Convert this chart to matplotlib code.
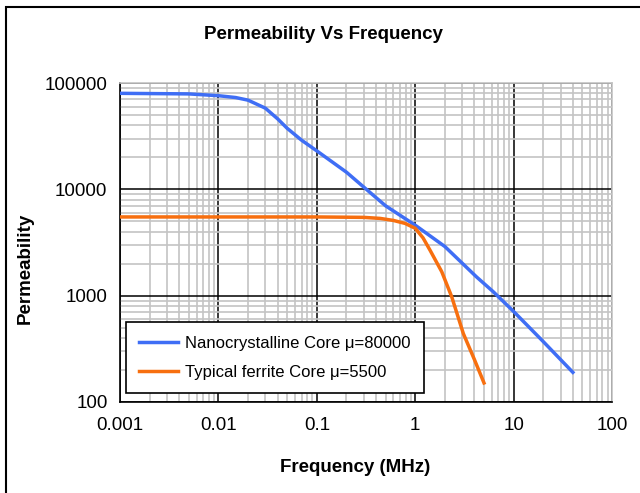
import matplotlib.pyplot as plt
from matplotlib.patches import Rectangle
from matplotlib.ticker import LogLocator, FixedLocator, NullFormatter

plt.rcParams['font.family'] = ['Liberation Sans', 'DejaVu Sans']

# Data
nano_freq = [0.001, 0.005, 0.01, 0.015, 0.02, 0.03, 0.04, 0.05, 0.07, 0.1, 0.2, 0.3, 0.5, 1, 2, 4.2, 6.2, 10, 20, 40]
nano_mu = [80000, 79000, 76000, 73000, 69000, 58000, 46000, 37500, 29000, 23000, 14500, 10500, 7000, 4600, 2900, 1500, 1090, 710, 370, 190]

ferr_freq = [0.001, 0.01, 0.1, 0.3, 0.44, 0.6, 0.79, 1.0, 1.2, 1.41, 1.86, 2.35, 3.08, 4.0, 5.0]
ferr_mu = [5500, 5500, 5500, 5450, 5330, 5100, 4780, 4300, 3500, 2690, 1680, 975, 441, 250, 151]

x_ticks = [0.001, 0.01, 0.1, 1, 10, 100]
x_labels = ['0.001', '0.01', '0.1', '1', '10', '100']
y_ticks = [100, 1000, 10000, 100000]
y_labels = ['100', '1000', '10000', '100000']

fig = plt.figure(figsize=(6.4, 4.93), dpi=100)
ax = fig.add_axes([0.1875, 0.1846, 0.7688, 0.647])

ax.plot(nano_freq, nano_mu, color='#3f6ef5', lw=2.5, label='Nanocrystalline Core μ=80000', zorder=3)
ax.plot(ferr_freq, ferr_mu, color='#f76f0f', lw=2.5, label='Typical ferrite Core μ=5500', zorder=3)

ax.set_xscale('log')
ax.set_yscale('log')
ax.set_xlim(0.001, 100)
ax.set_ylim(100, 100000)

ax.xaxis.set_major_locator(FixedLocator(x_ticks))
ax.set_xticklabels(x_labels)
ax.yaxis.set_major_locator(FixedLocator(y_ticks))
ax.set_yticklabels(y_labels)
ax.xaxis.set_minor_locator(LogLocator(base=10, subs=range(2, 10), numticks=20))
ax.yaxis.set_minor_locator(LogLocator(base=10, subs=range(2, 10), numticks=20))
ax.xaxis.set_minor_formatter(NullFormatter())
ax.yaxis.set_minor_formatter(NullFormatter())

ax.grid(which='minor', color='#c4c4c4', lw=1.2, zorder=0)
ax.grid(which='major', color='black', lw=1.1, zorder=1)
ax.set_axisbelow(True)
ax.tick_params(which='both', length=0, labelsize=13.5)
ax.tick_params(axis='x', pad=11)
ax.tick_params(axis='y', pad=9)

ax.spines['top'].set_color('#c4c4c4')
ax.spines['right'].set_color('#c4c4c4')
ax.spines['left'].set_color('black')
ax.spines['bottom'].set_color('black')
for s in ax.spines.values():
    s.set_linewidth(1.2)

ax.set_xlabel('Frequency (MHz)', fontsize=13.5, fontweight='bold')
ax.xaxis.set_label_coords(0.478, -0.179)
ax.set_ylabel('Permeability', fontsize=13.5, fontweight='bold')
ax.yaxis.set_label_coords(-0.175, 0.42)

fig.text(0.505, 0.931, 'Permeability Vs Frequency', fontsize=13.5, fontweight='bold',
         ha='center', va='center')

leg = ax.legend(loc='lower left', bbox_to_anchor=(0.012, 0.028), borderaxespad=0, fontsize=12,
                frameon=True, fancybox=False, framealpha=1, edgecolor='black',
                handlelength=2.3, handletextpad=0.45, borderpad=0.8, labelspacing=0.85)
leg.get_frame().set_linewidth(1.2)

fig.patches.append(Rectangle((0.009, -0.05), 1.1, 0.9858 + 0.05, transform=fig.transFigure,
                             fill=False, edgecolor='black', lw=1.5, clip_on=False))

fig.savefig('out.png', dpi=100)
